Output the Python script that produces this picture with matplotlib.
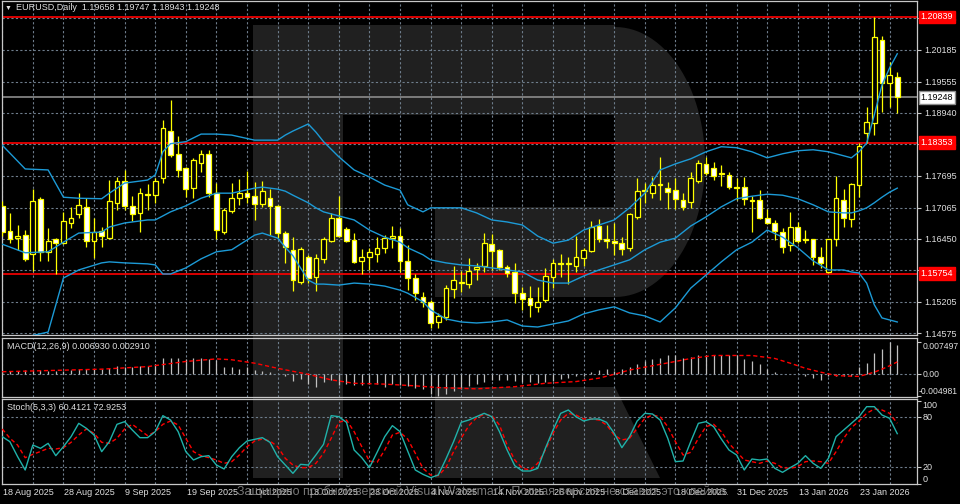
import numpy as np
import matplotlib
matplotlib.use("Agg")
import matplotlib.pyplot as plt
from matplotlib.patches import Polygon, Rectangle

# ---- daily candles, 18 Aug 2025 .. 30 Jan 2026 (bar index 0..117) ----
opens = [1.1710, 1.1660, 1.1647, 1.1652, 1.1615, 1.1724, 1.1619, 1.1644, 1.1636, 1.1676,
         1.1694, 1.1708, 1.1640, 1.1660, 1.1646, 1.1716, 1.1759, 1.1710, 1.1696, 1.1733,
         1.1731, 1.1765, 1.1858, 1.1813, 1.1785, 1.1745, 1.1795, 1.1813, 1.1735, 1.1658,
         1.1700, 1.1725, 1.1735, 1.1729, 1.1714, 1.1725, 1.1710, 1.1656, 1.1623, 1.1559,
         1.1609, 1.1569, 1.1605, 1.1640, 1.1686, 1.1664, 1.1642, 1.1601, 1.1609, 1.1615,
         1.1627, 1.1646, 1.1650, 1.1601, 1.1567, 1.1529, 1.1520, 1.1480, 1.1490, 1.1545,
         1.1557, 1.1555, 1.1585, 1.1591, 1.1634, 1.1623, 1.1589, 1.1579, 1.1537, 1.1527,
         1.1510, 1.1524, 1.1569, 1.1597, 1.1595, 1.1591, 1.1607, 1.1621, 1.1670, 1.1644,
         1.1640, 1.1636, 1.1627, 1.1688, 1.1739, 1.1735, 1.1751, 1.1745, 1.1741, 1.1722,
         1.1718, 1.1759, 1.1793, 1.1785, 1.1773, 1.1771, 1.1747, 1.1747, 1.1722, 1.1722,
         1.1686, 1.1676, 1.1658, 1.1632, 1.1668, 1.1644, 1.1644, 1.1609, 1.1579, 1.1644,
         1.1722, 1.1684, 1.1751, 1.1854, 1.1874, 1.2038, 1.1953, 1.19658]
highs = [1.1720, 1.1696, 1.1672, 1.1662, 1.1743, 1.1727, 1.1666, 1.1646, 1.1698, 1.1708,
         1.1735, 1.1725, 1.1686, 1.1668, 1.1761, 1.1767, 1.1781, 1.1729, 1.1745, 1.1753,
         1.1765, 1.1880, 1.1920, 1.1848, 1.1787, 1.1805, 1.1821, 1.1821, 1.1755, 1.1706,
         1.1755, 1.1763, 1.1779, 1.1757, 1.1759, 1.1743, 1.1712, 1.1660, 1.1648, 1.1628,
         1.1613, 1.1615, 1.1648, 1.1696, 1.1729, 1.1668, 1.1656, 1.1625, 1.1627, 1.1648,
         1.1652, 1.1670, 1.1666, 1.1632, 1.1575, 1.1539, 1.1524, 1.1498, 1.1553, 1.1591,
         1.1581, 1.1607, 1.1597, 1.1656, 1.1654, 1.1625, 1.1593, 1.1597, 1.1549, 1.1551,
         1.1549, 1.1587, 1.1605, 1.1615, 1.1609, 1.1650, 1.1627, 1.1680, 1.1684, 1.1672,
         1.1676, 1.1648, 1.1696, 1.1765, 1.1755, 1.1767, 1.1807, 1.1757, 1.1765, 1.1735,
         1.1777, 1.1801, 1.1807, 1.1797, 1.1791, 1.1777, 1.1765, 1.1767, 1.1729, 1.1741,
         1.1704, 1.1682, 1.1666, 1.1698, 1.1678, 1.1662, 1.1644, 1.1628, 1.1644, 1.1769,
         1.1743, 1.1755, 1.1834, 1.1906, 1.2084, 1.2046, 1.1995, 1.19747]
lows = [1.1650, 1.1636, 1.1623, 1.1601, 1.1581, 1.1601, 1.1601, 1.1575, 1.1634, 1.1666,
        1.1686, 1.1628, 1.1607, 1.1628, 1.1644, 1.1702, 1.1702, 1.1680, 1.1658, 1.1702,
        1.1716, 1.1755, 1.1807, 1.1767, 1.1727, 1.1725, 1.1777, 1.1727, 1.1644, 1.1654,
        1.1696, 1.1712, 1.1716, 1.1682, 1.1708, 1.1652, 1.1646, 1.1597, 1.1541, 1.1555,
        1.1557, 1.1541, 1.1597, 1.1638, 1.1648, 1.1638, 1.1597, 1.1575, 1.1583, 1.1599,
        1.1617, 1.1627, 1.1579, 1.1543, 1.1524, 1.1510, 1.1468, 1.1468, 1.1484, 1.1528,
        1.1539, 1.1547, 1.1563, 1.1579, 1.1583, 1.1583, 1.1569, 1.1518, 1.1504, 1.1490,
        1.1500, 1.1520, 1.1547, 1.1569, 1.1555, 1.1579, 1.1591, 1.1619, 1.1638, 1.1627,
        1.1613, 1.1613, 1.1621, 1.1684, 1.1716, 1.1725, 1.1722, 1.1704, 1.1704, 1.1702,
        1.1706, 1.1755, 1.1771, 1.1761, 1.1749, 1.1743, 1.1722, 1.1712, 1.1658, 1.1684,
        1.1674, 1.1642, 1.1617, 1.1621, 1.1636, 1.1636, 1.1593, 1.1587, 1.1577, 1.1630,
        1.1668, 1.1668, 1.1727, 1.1834, 1.1850, 1.1896, 1.1906, 1.18943]
closes = [1.1658, 1.1644, 1.1650, 1.1605, 1.1720, 1.1619, 1.1640, 1.1636, 1.1680, 1.1686,
          1.1712, 1.1640, 1.1658, 1.1650, 1.1720, 1.1759, 1.1710, 1.1694, 1.1735, 1.1731,
          1.1759, 1.1864, 1.1811, 1.1781, 1.1743, 1.1801, 1.1813, 1.1735, 1.1662, 1.1702,
          1.1725, 1.1735, 1.1727, 1.1714, 1.1739, 1.1710, 1.1656, 1.1628, 1.1563, 1.1624,
          1.1567, 1.1607, 1.1644, 1.1686, 1.1650, 1.1640, 1.1599, 1.1609, 1.1619, 1.1627,
          1.1646, 1.1650, 1.1601, 1.1567, 1.1537, 1.1520, 1.1478, 1.1492, 1.1547, 1.1563,
          1.1559, 1.1581, 1.1589, 1.1636, 1.1621, 1.1589, 1.1577, 1.1537, 1.1526, 1.1514,
          1.1520, 1.1571, 1.1597, 1.1595, 1.1597, 1.1609, 1.1623, 1.1668, 1.1644, 1.1640,
          1.1636, 1.1625, 1.1694, 1.1739, 1.1741, 1.1751, 1.1753, 1.1737, 1.1724, 1.1708,
          1.1765, 1.1795, 1.1775, 1.1769, 1.1775, 1.1747, 1.1745, 1.1724, 1.1720, 1.1686,
          1.1676, 1.1660, 1.1628, 1.1668, 1.1640, 1.1642, 1.1609, 1.1597, 1.1644, 1.1726,
          1.1686, 1.1753, 1.1828, 1.1876, 1.2044, 1.1953, 1.1969, 1.19248]

# ---- Bollinger bands, read at selected bars ----
band_idx = [0, 3, 6, 8, 10, 13, 14, 16, 19, 20, 21, 22, 24, 26, 28, 30, 33, 34, 36, 37,
            38, 40, 41, 42, 44, 46, 48, 50, 52, 53, 55, 56, 58, 60, 62, 64, 66, 68, 70, 72,
            74, 76, 78, 80, 82, 84, 86, 88, 90, 92, 94, 96, 98, 100, 102, 104, 106, 108, 110, 111,
            112, 113, 114, 115, 116, 117]
band_upper = [1.1830, 1.1783, 1.1781, 1.1727, 1.1725, 1.1724, 1.1735, 1.1755, 1.1761, 1.1771,
              1.1817, 1.1833, 1.1837, 1.1852, 1.1852, 1.1850, 1.1840, 1.1840, 1.1840, 1.1850,
              1.1858, 1.1872, 1.1856, 1.1837, 1.1807, 1.1781, 1.1767, 1.1751, 1.1741, 1.1712,
              1.1698, 1.1706, 1.1706, 1.1706, 1.1696, 1.1682, 1.1678, 1.1672, 1.1650, 1.1636,
              1.1642, 1.1662, 1.1672, 1.1682, 1.1706, 1.1735, 1.1781, 1.1793, 1.1803, 1.1817,
              1.1827, 1.1825, 1.1817, 1.1805, 1.1813, 1.1819, 1.1821, 1.1817, 1.1809, 1.1805,
              1.1817, 1.1834, 1.1890, 1.1949, 1.1983, 1.2011]
band_mid = [1.1634, 1.1617, 1.1619, 1.1638, 1.1656, 1.1658, 1.1668, 1.1676, 1.1682, 1.1682,
            1.1690, 1.1698, 1.1710, 1.1725, 1.1735, 1.1735, 1.1745, 1.1747, 1.1743, 1.1739,
            1.1731, 1.1716, 1.1706, 1.1698, 1.1690, 1.1682, 1.1662, 1.1648, 1.1638, 1.1627,
            1.1613, 1.1603, 1.1597, 1.1593, 1.1591, 1.1587, 1.1583, 1.1579, 1.1563, 1.1557,
            1.1557, 1.1571, 1.1583, 1.1593, 1.1603, 1.1623, 1.1638, 1.1646, 1.1670, 1.1688,
            1.1708, 1.1724, 1.1729, 1.1733, 1.1731, 1.1724, 1.1712, 1.1698, 1.1696, 1.1696,
            1.1700, 1.1706, 1.1716, 1.1727, 1.1737, 1.1745]
band_lower = [1.1438, 1.1450, 1.1460, 1.1567, 1.1583, 1.1597, 1.1599, 1.1597, 1.1595, 1.1593,
              1.1575, 1.1575, 1.1587, 1.1605, 1.1619, 1.1623, 1.1652, 1.1656, 1.1646, 1.1628,
              1.1611, 1.1563, 1.1555, 1.1555, 1.1553, 1.1557, 1.1555, 1.1551, 1.1543, 1.1537,
              1.1520, 1.1504, 1.1486, 1.1480, 1.1478, 1.1480, 1.1484, 1.1472, 1.1470, 1.1476,
              1.1482, 1.1496, 1.1504, 1.1510, 1.1498, 1.1492, 1.1480, 1.1508, 1.1547, 1.1573,
              1.1599, 1.1623, 1.1638, 1.1662, 1.1648, 1.1627, 1.1601, 1.1583, 1.1583, 1.1579,
              1.1577, 1.1557, 1.1514, 1.1488, 1.1484, 1.1480]

# ---- MACD(12,26,9) ----
macd_hist = [0.0010, 0.0008, 0.0008, 0.0009, 0.0010, 0.0010, 0.0008, 0.0008, 0.0008, 0.0009,
             0.0012, 0.0012, 0.0012, 0.0012, 0.0014, 0.0020, 0.0018, 0.0018, 0.0020, 0.0020,
             0.0024, 0.0037, 0.0039, 0.0039, 0.0036, 0.0037, 0.0039, 0.0036, 0.0034, 0.0018,
             0.0016, 0.0012, 0.0016, 0.0010, 0.0008, 0.0005, 0.0000, -0.0005, -0.0016, -0.0011,
             -0.0023, -0.0029, -0.0017, -0.0013, -0.0025, -0.0023, -0.0025, -0.0025, -0.0023, -0.0023,
             -0.0029, -0.0023, -0.0025, -0.0027, -0.0033, -0.0034, -0.0046, -0.0050, -0.0045, -0.0040,
             -0.0034, -0.0028, -0.0022, -0.0017, -0.0013, -0.0013, -0.0013, -0.0016, -0.0017, -0.0019,
             -0.0021, -0.0017, -0.0016, -0.0011, -0.0009, -0.0005, -0.0003, 0.0005, 0.0010, 0.0012,
             0.0008, 0.0012, 0.0018, 0.0023, 0.0031, 0.0036, 0.0039, 0.0044, 0.0044, 0.0037,
             0.0041, 0.0044, 0.0045, 0.0045, 0.0044, 0.0044, 0.0045, 0.0036, 0.0031, 0.0023,
             0.0012, 0.0005, 0.0000, 0.0000, 0.0000, -0.0003, -0.0008, -0.0013, -0.0003, -0.0003,
             -0.0005, -0.0005, 0.0018, 0.0026, 0.0049, 0.0060, 0.0075, 0.0069]
signal_idx = [0, 13, 19, 24, 28, 30, 33, 36, 40, 43, 46, 50, 54, 57, 62, 67, 71, 75, 78, 80,
              82, 85, 88, 90, 93, 98, 101, 103, 105, 107, 109, 112, 113, 114, 115, 116, 117]
signal_val = [0.0006, 0.0012, 0.0018, 0.0030, 0.0036, 0.0034, 0.0026, 0.0014, 0.0000, -0.0013,
              -0.0021, -0.0023, -0.0027, -0.0031, -0.0034, -0.0029, -0.0021, -0.0017, -0.0009, 0.0000,
              0.0010, 0.0020, 0.0030, 0.0037, 0.0044, 0.0044, 0.0037, 0.0026, 0.0014, 0.0005,
              -0.0003, -0.0005, 0.0000, 0.0005, 0.0012, 0.0020, 0.0029]

# ---- Stochastic(5,3,3) ----
stoch_k = [56.8, 50.8, 33.0, 16.8, 46.8, 42.8, 48.8, 34.0, 44.8, 56.8,
           72.8, 66.8, 58.8, 38.8, 50.8, 71.6, 74.8, 64.8, 55.6, 55.6,
           62.8, 82.0, 76.8, 62.8, 38.8, 28.8, 32.8, 34.0, 22.8, 18.0,
           32.8, 43.6, 51.6, 53.6, 55.6, 50.0, 32.8, 22.8, 12.8, 23.6,
           22.8, 34.8, 47.6, 82.0, 80.8, 74.0, 40.8, 31.6, 19.6, 38.0,
           56.8, 70.0, 62.8, 39.6, 16.8, 11.6, 7.6, 10.8, 30.0, 50.8,
           74.0, 76.8, 80.8, 84.8, 80.8, 62.8, 40.8, 22.0, 15.6, 15.6,
           18.8, 42.8, 64.8, 84.8, 88.8, 80.8, 75.6, 78.0, 78.0, 74.0,
           60.8, 43.6, 56.8, 75.6, 84.8, 84.0, 76.8, 54.8, 26.8, 27.6,
           50.8, 72.8, 74.8, 68.8, 54.0, 40.8, 34.8, 16.8, 30.0, 28.8,
           30.0, 18.8, 14.0, 19.6, 24.8, 34.0, 24.8, 18.8, 30.8, 56.8,
           64.8, 72.8, 80.8, 92.8, 92.8, 82.8, 78.8, 60.4]
stoch_d = [66.0, 55.0, 46.8, 31.6, 35.6, 39.0, 42.8, 42.0, 43.6, 50.0,
           58.8, 66.0, 60.8, 50.0, 48.8, 54.8, 66.0, 71.6, 64.8, 58.0,
           62.8, 71.6, 75.6, 70.8, 54.8, 38.8, 34.0, 31.6, 28.8, 24.8,
           26.8, 34.8, 44.8, 51.6, 54.0, 51.6, 44.8, 30.8, 22.8, 19.6,
           19.6, 24.8, 36.8, 54.8, 74.0, 76.8, 62.8, 44.8, 27.6, 26.0,
           40.8, 58.8, 62.0, 54.0, 36.8, 18.8, 10.8, 10.0, 19.6, 38.8,
           55.0, 70.0, 79.6, 83.6, 82.0, 70.8, 46.8, 28.8, 18.8, 16.8,
           24.8, 40.8, 60.8, 76.8, 84.8, 82.8, 78.0, 78.0, 76.8, 70.8,
           58.8, 52.8, 54.8, 66.8, 78.8, 82.8, 80.8, 68.8, 50.8, 34.8,
           38.0, 54.8, 68.8, 71.6, 62.8, 48.8, 38.8, 28.8, 26.8, 24.8,
           27.6, 24.8, 19.6, 18.8, 20.8, 26.8, 27.6, 26.8, 24.8, 38.8,
           54.8, 67.6, 75.6, 84.8, 90.0, 88.8, 84.8, 72.9]

# ---- levels and labels ----
price_ticks = [1.14575, 1.15205, 1.15835, 1.16450, 1.17065, 1.17695,
               1.18325, 1.18940, 1.19555, 1.20185, 1.20815]
red_levels = [1.20839, 1.18353, 1.15754]
last_price = 1.19248
date_idx = [0, 8, 16, 24, 32, 40, 48, 56, 64, 72, 80, 88, 96, 104, 112]
date_labels = ["18 Aug 2025", "28 Aug 2025", "9 Sep 2025", "19 Sep 2025", "1 Oct 2025",
               "13 Oct 2025", "23 Oct 2025", "4 Nov 2025", "14 Nov 2025", "26 Nov 2025",
               "8 Dec 2025", "18 Dec 2025", "31 Dec 2025", "13 Jan 2026", "23 Jan 2026"]

W, H = 960, 504
FG = "#c8c8c8"
TXT = "#e0e0e0"
GRID = "#6e7d8c"
BANDS = "#1c9ad6"
FS = 6.5

plt.rcParams['font.family'] = ['Liberation Sans', 'DejaVu Sans']


def px_box(x0, y0, x1, y1):
    return [x0 / W, 1 - y1 / H, (x1 - x0) / W, (y1 - y0) / H]


def style_panel(ax):
    ax.set_facecolor("none")
    for s in ax.spines.values():
        s.set_color(FG)
        s.set_linewidth(0.9)
    ax.set_xlim(-0.03, 119.58)
    ax.set_xticks(np.arange(0, 120, 4))
    ax.tick_params(axis='x', length=0, labelbottom=False)
    ax.grid(True, axis='x', color=GRID, ls=(0, (2, 2)), lw=0.8)
    ax.set_axisbelow(True)
    ax.yaxis.tick_right()
    ax.tick_params(axis='y', length=3, color=FG, labelcolor=TXT, labelsize=FS, pad=2)


fig = plt.figure(figsize=(9.6, 5.04), dpi=100, facecolor="black")

# watermark logo in the background
bg = fig.add_axes([0, 0, 1, 1], zorder=-1)
bg.set_xlim(0, W)
bg.set_ylim(H, 0)
bg.axis('off')
wm = "#202020"
bg.add_patch(Rectangle((253, 25), 90, 453, color=wm, lw=0))
bg.add_patch(Rectangle((343, 25), 272, 90, color=wm, lw=0))
bg.add_patch(Rectangle((435, 207), 180, 90, color=wm, lw=0))
t = np.linspace(-np.pi / 2, np.pi / 2, 60)
bg.add_patch(Polygon(np.column_stack([615 + 90 * np.cos(t), 162 + 135 * np.sin(t)]), color=wm, lw=0))
bg.add_patch(Polygon([(435, 387), (615, 387), (660, 478), (435, 478)], color=wm, lw=0))

# ---- price panel ----
ax = fig.add_axes(px_box(2, 1, 917, 335))
style_panel(ax)
ax.set_ylim(1.14542, 1.21155)
ax.set_yticks(price_ticks)
ax.set_yticklabels([f"{v:.5f}" for v in price_ticks])
ax.grid(True, axis='y', color=GRID, ls=(0, (2, 2)), lw=0.8)

idx = np.arange(len(closes))
o, h, l, c = map(np.array, (opens, highs, lows, closes))
bull = c >= o
ax.vlines(idx, l, h, color="#ffff00", lw=0.9, zorder=3)
ax.bar(idx, np.maximum(np.abs(c - o), 0.00002), bottom=np.minimum(o, c), width=0.62,
       color=np.where(bull, "black", "white"), edgecolor="#ffff00", lw=0.9, zorder=4)

for band in (band_upper, band_mid, band_lower):
    ax.plot(band_idx, band, color=BANDS, lw=1.0, zorder=5)

for lv in red_levels:
    ax.axhline(lv, color="red", lw=1.2, zorder=2)
    ax.text(1.004, lv, f"{lv:.5f}", transform=ax.get_yaxis_transform(), color="white",
            fontsize=FS, va="center", ha="left", zorder=10, clip_on=False,
            bbox=dict(boxstyle="square,pad=0.2", fc="red", ec="red"))
ax.axhline(last_price, color="#8c8c8c", lw=1.2, zorder=2)
ax.text(1.004, last_price, f"{last_price:.5f}", transform=ax.get_yaxis_transform(), color="black",
        fontsize=FS, va="center", ha="left", zorder=10, clip_on=False,
        bbox=dict(boxstyle="square,pad=0.2", fc="white", ec="#8c8c8c"))

fig.text(5 / W, 1 - 8 / H, "\u25bc", color=TXT, fontsize=5, va="center", ha="left")
fig.text(16 / W, 1 - 8 / H, "EURUSD,Daily  1.19658 1.19747 1.18943 1.19248",
         color=TXT, fontsize=FS, va="center", ha="left")

# ---- MACD panel ----
am = fig.add_axes(px_box(2, 338, 917, 397))
style_panel(am)
am.set_ylim(-0.00531, 0.00849)
am.axhline(0, color=GRID, ls=(0, (2, 2)), lw=0.8, zorder=1)
am.vlines(idx, 0, macd_hist, color="#c0c0c0", lw=0.9, zorder=3)
am.plot(signal_idx, signal_val, color="red", ls=(0, (3, 2)), lw=1.0, zorder=4)
am.set_yticks([-0.004981, 0, 0.007497])
am.set_yticklabels([])
for txt, v, va, xo in (("0.007497", 0.007497, "top", 1.006), ("0.00", 0.0, "center", 1.006),
                       ("-0.004981", -0.004981, "bottom", 1.002)):
    am.text(xo, v, txt, transform=am.get_yaxis_transform(), color=TXT,
            fontsize=6.2, va=va, ha="left", clip_on=False)
am.text(5 / 915, 0.85, "MACD(12,26,9) 0.006930 0.002910", transform=am.transAxes,
        color=TXT, fontsize=FS, va="center", ha="left")

# ---- Stochastic panel ----
st = fig.add_axes(px_box(2, 399, 917, 484))
style_panel(st)
st.set_ylim(0, 102)
for lv in (80, 20):
    st.axhline(lv, color=GRID, ls=(0, (2, 2)), lw=0.8, zorder=1)
st.plot(idx, stoch_k, color="#20b2aa", lw=1.0, zorder=4)
st.plot(idx, stoch_d, color="red", ls=(0, (3, 2)), lw=1.0, zorder=3)
st.set_yticks([0, 20, 80, 100])
st.set_yticklabels([])
for txt, v, va in (("100", 100, "top"), ("80", 80, "center"), ("20", 20, "center"), ("0", 0, "bottom")):
    st.text(1.006, v, txt, transform=st.get_yaxis_transform(), color=TXT,
            fontsize=FS, va=va, ha="left", clip_on=False)
st.text(5 / 915, 0.9, "Stoch(5,3,3) 60.4121 72.9253", transform=st.transAxes,
        color=TXT, fontsize=FS, va="center", ha="left")

st.set_xticks(date_idx, minor=True)
st.tick_params(axis='x', which='minor', length=3, color=FG, direction='out')
for di, lab in zip(date_idx, date_labels):
    st.text(di + 0.1, -0.095, lab, transform=st.get_xaxis_transform(), color=TXT,
            fontsize=FS, va="center", ha="left", clip_on=False)

# trial-version watermark line that sits over the date row in the original
fig.text(237 / W, 1 - 492 / H,
         "Защищено пробной версией Visual Watermark. Полная версия не ставит это клеймо.",
         color="#8c8c8c", alpha=0.85, fontsize=9, va="center", ha="left")

fig.savefig("out.png", dpi=100, facecolor="black")
